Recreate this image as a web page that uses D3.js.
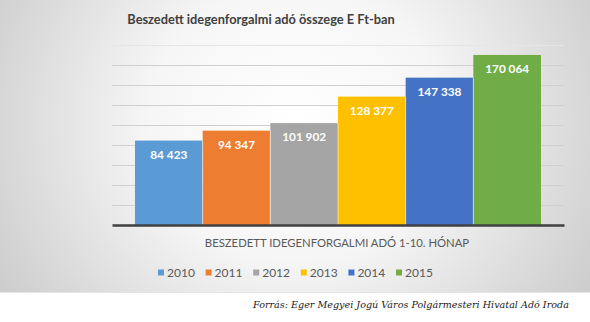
<!DOCTYPE html>
<html>
<head>
<meta charset="utf-8">
<script src="https://cdn.jsdelivr.net/npm/d3@7/dist/d3.min.js"></script>
<style>
  html, body { margin: 0; padding: 0; background: #fff; }
  svg { display: block; }
</style>
</head>
<body>
<svg id="chart" width="590" height="322"></svg>
<script>
// Collected tourist tax, thousand HUF, months 1-10
const years = ["2010", "2011", "2012", "2013", "2014", "2015"];
const values = [84423, 94347, 101902, 128377, 147338, 170064];
const colors = ["#5B9BD5", "#ED7D31", "#A5A5A5", "#FFC000", "#4472C4", "#70AD47"];
const yTicks = [0, 20000, 40000, 60000, 80000, 100000, 120000, 140000, 160000, 180000];
const titleText = "Beszedett idegenforgalmi adó összege E Ft-ban";
const categoryLabel = "BESZEDETT IDEGENFORGALMI ADÓ 1-10. HÓNAP";
const sourceText = "Forrás: Eger Megyei Jogú Város Polgármesteri Hivatal Adó Iroda";

const svg = d3.select("#chart");
const W = 590, panelH = 292;

// Panel background: soft radial gradient, light in the middle
const defs = svg.append("defs");
const grad = defs.append("radialGradient")
  .attr("id", "bg").attr("cx", "0.5").attr("cy", "0.42").attr("r", "0.62")
  .attr("gradientTransform", "translate(0.5,0.42) scale(1,1.9) translate(-0.5,-0.42)");
grad.append("stop").attr("offset", "0%").attr("stop-color", "#ffffff");
grad.append("stop").attr("offset", "40%").attr("stop-color", "#f6f6f6");
grad.append("stop").attr("offset", "100%").attr("stop-color", "#c8c8c8");
svg.append("rect").attr("x", 0).attr("y", 0).attr("width", W).attr("height", panelH)
  .attr("fill", "url(#bg)");
svg.append("line").attr("x1", 0).attr("x2", W).attr("y1", panelH + 0.5).attr("y2", panelH + 0.5)
  .attr("stroke", "#e4e4e4").attr("stroke-width", 1);

// Plot geometry
const plot = { left: 112, right: 564, top: 45, bottom: 225 };

const y = d3.scaleLinear().domain([0, 180000]).range([plot.bottom, plot.top]);
const x = d3.scaleBand().domain(years).range([135, 541]).paddingInner(0).paddingOuter(0);

// Gridlines
const grid = svg.append("g").attr("class", "grid")
  .attr("transform", `translate(${plot.left},0)`)
  .call(d3.axisLeft(y).tickValues(yTicks.slice(1)).tickSize(-(plot.right - plot.left)).tickFormat(""));
grid.select(".domain").remove();
grid.selectAll(".tick line")
  .attr("stroke", (d) => d === 180000 ? "#e6e6e6" : "#d0d0d0")
  .attr("stroke-width", 1.2);

// Bars
svg.append("g").selectAll("rect").data(years).join("rect")
  .attr("x", (d) => x(d))
  .attr("width", x.bandwidth())
  .attr("y", (d, i) => y(values[i]))
  .attr("height", (d, i) => y(0) - y(values[i]))
  .attr("fill", (d, i) => colors[i]);

// Separators between adjacent bars
svg.append("g").selectAll("line").data(years.slice(1)).join("line")
  .attr("x1", (d) => x(d)).attr("x2", (d) => x(d))
  .attr("y1", (d, i) => y(Math.min(values[i], values[i + 1])))
  .attr("y2", y(0))
  .attr("stroke", "#ffffff").attr("stroke-opacity", 0.55).attr("stroke-width", 1);

// Value labels
const fmt = (v) => d3.format(",")(v).replace(/,/g, " ");
svg.append("g").selectAll("text").data(years).join("text")
  .attr("x", (d) => x(d) + x.bandwidth() / 2)
  .attr("y", (d, i) => y(values[i]) + 18)
  .attr("text-anchor", "middle")
  .attr("font-family", "Lato, 'Open Sans', sans-serif")
  .attr("font-weight", "bold")
  .attr("font-size", "11.8px")
  .attr("fill", "#ffffff")
  .text((d, i) => fmt(values[i]));

// Category axis line
const xAxis = svg.append("g").attr("transform", `translate(0,${plot.bottom})`)
  .call(d3.axisBottom(d3.scaleLinear().domain([0, 1]).range([plot.left, plot.right])).tickValues([]).tickSizeOuter(0));
xAxis.select(".domain").attr("stroke", "#404040").attr("stroke-width", 2.4);

// Title
svg.append("text")
  .attr("x", 261).attr("y", 23.5)
  .attr("text-anchor", "middle")
  .attr("font-family", "Lato, sans-serif")
  .attr("font-weight", "bold")
  .attr("font-size", "12.8px")
  .attr("fill", "#404040")
  .text(titleText);

// Category label
svg.append("text")
  .attr("x", 337).attr("y", 247)
  .attr("text-anchor", "middle")
  .attr("font-family", "Lato, sans-serif")
  .attr("font-size", "11.3px")
  .attr("fill", "#595959")
  .text(categoryLabel);

// Legend
const legend = svg.append("g").attr("transform", "translate(158,273)");
const item = legend.selectAll("g").data(years).join("g")
  .attr("transform", (d, i) => `translate(${i * 47.6},0)`);
item.append("rect").attr("x", 0).attr("y", -3.5).attr("width", 6).attr("height", 6)
  .attr("fill", (d, i) => colors[i]);
item.append("text").attr("x", 9).attr("y", 4.2)
  .attr("font-family", "Lato, sans-serif")
  .attr("font-size", "12px")
  .attr("fill", "#595959")
  .text((d) => d);

// Source note
svg.append("text")
  .attr("x", 253).attr("y", 308)
  .attr("font-family", "'DejaVu Serif', serif")
  .attr("font-style", "italic")
  .attr("font-size", "9.6px")
  .attr("fill", "#1a1a1a")
  .text(sourceText);
</script>
</body>
</html>
